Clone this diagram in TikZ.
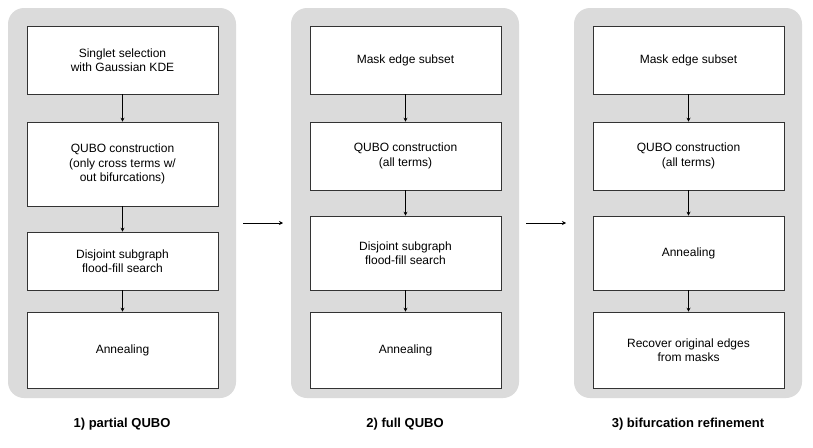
\documentclass[tikz,border=0pt]{standalone}
\usetikzlibrary{arrows.meta}
\usepackage{fontspec}
\setmainfont{Liberation Sans}
\begin{document}
\begin{tikzpicture}[x=1pt,y=-1pt,
  stepbox/.style={draw=black!80,fill=white,line width=0.6pt,align=center,font=\fontsize{12}{14.5}\selectfont},
  flow/.style={-{Stealth[length=4pt,width=4pt]},line width=0.6pt},
  captext/.style={font=\fontsize{13}{15}\selectfont\bfseries}]
\useasboundingbox (0,0) rectangle (813,447);
\foreach \px in {8,291,574}{\fill[black!14,rounded corners=16pt] (\px,8) rectangle ++(228,390);}
% panel 1
\node[stepbox,minimum width=191,minimum height=68] (a1) at (122.5,60) {Singlet selection\\with Gaussian KDE};
\node[stepbox,minimum width=191,minimum height=84] (a2) at (122.5,164) {QUBO construction\\(only cross terms w/\\out bifurcations)};
\node[stepbox,minimum width=191,minimum height=58] (a3) at (122.5,261) {Disjoint subgraph\\flood-fill search};
\node[stepbox,minimum width=191,minimum height=76] (a4) at (122.5,350) {Annealing};
% panel 2
\node[stepbox,minimum width=191,minimum height=68] (b1) at (405.5,60) {Mask edge subset};
\node[stepbox,minimum width=191,minimum height=68] (b2) at (405.5,156) {QUBO construction\\(all terms)};
\node[stepbox,minimum width=191,minimum height=74] (b3) at (405.5,253) {Disjoint subgraph\\flood-fill search};
\node[stepbox,minimum width=191,minimum height=76] (b4) at (405.5,350) {Annealing};
% panel 3
\node[stepbox,minimum width=191,minimum height=68] (c1) at (688.5,60) {Mask edge subset};
\node[stepbox,minimum width=191,minimum height=68] (c2) at (688.5,156) {QUBO construction\\(all terms)};
\node[stepbox,minimum width=191,minimum height=74] (c3) at (688.5,253) {Annealing};
\node[stepbox,minimum width=191,minimum height=76] (c4) at (688.5,350) {Recover original edges\\from masks};
\foreach \p in {a,b,c}{
  \draw[flow] (\p1) -- (\p2);
  \draw[flow] (\p2) -- (\p3);
  \draw[flow] (\p3) -- (\p4);}
\coordinate (p1e) at (243,223); \coordinate (p2w) at (283,223);
\coordinate (p2e) at (526,223); \coordinate (p3w) at (566,223);
\draw[flow] (p1e) -- (p2w);
\draw[flow] (p2e) -- (p3w);
\node[captext] (l1) at (122,424) {1) partial QUBO};
\node[captext] (l2) at (405,424) {2) full QUBO};
\node[captext] (l3) at (688,424) {3) bifurcation refinement};
\end{tikzpicture}
\end{document}
